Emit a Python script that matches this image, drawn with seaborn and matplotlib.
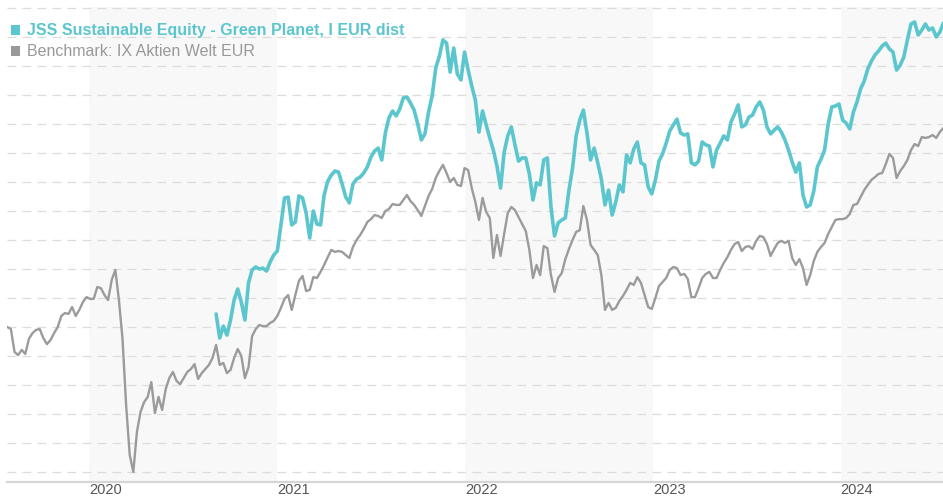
import numpy as np
import pandas as pd
import matplotlib
matplotlib.use("Agg")
import matplotlib.pyplot as plt
import matplotlib.patches as mpatches
import seaborn as sns

# weekly values (Fridays), index level
start_date = "2019-07-26"

benchmark = [
    90.0, 89.3, 81.4, 80.3, 82.1, 80.7, 85.9, 87.9, 89.0, 89.3,
    86.2, 84.1, 85.5, 87.9, 90.0, 93.8, 94.8, 94.5, 96.9, 93.8,
    95.9, 98.6, 100.3, 99.7, 99.7, 103.8, 103.4, 101.0, 99.3, 106.2,
    109.7, 99.3, 85.9, 63.1, 45.9, 40.0, 53.8, 60.7, 64.1, 65.9,
    71.0, 60.3, 65.9, 61.4, 68.6, 72.4, 74.5, 71.4, 70.3, 72.4,
    74.5, 75.5, 77.2, 72.1, 74.1, 75.5, 76.9, 79.3, 83.8, 76.9,
    77.6, 74.1, 75.2, 79.3, 82.4, 80.0, 72.4, 76.2, 86.9, 89.3,
    90.7, 90.3, 90.3, 91.4, 92.1, 93.8, 96.6, 99.7, 101.0, 95.9,
    101.0, 105.9, 107.6, 102.4, 102.8, 107.2, 106.9, 109.0, 111.4, 114.1,
    116.6, 115.9, 116.2, 115.9, 114.8, 113.8, 117.6, 120.0, 121.7, 123.8,
    126.2, 127.2, 128.6, 128.3, 127.6, 130.0, 130.7, 132.4, 132.1, 132.1,
    133.8, 135.5, 133.4, 132.1, 130.3, 128.3, 131.7, 135.2, 137.6, 141.4,
    143.8, 145.9, 143.1, 140.0, 141.4, 139.0, 138.6, 144.8, 144.1, 137.9,
    133.1, 126.9, 134.5, 129.7, 127.6, 113.8, 121.7, 114.5, 122.1, 129.3,
    131.4, 130.3, 127.9, 125.5, 123.1, 116.6, 106.9, 111.4, 107.9, 117.9,
    117.2, 107.9, 102.1, 106.9, 108.6, 113.4, 116.9, 120.0, 122.8, 123.4,
    131.7, 126.9, 118.3, 116.6, 114.8, 107.9, 95.9, 98.3, 95.9, 96.6,
    99.0, 100.7, 102.8, 105.2, 104.5, 107.2, 105.2, 101.0, 96.9, 96.2,
    100.0, 104.1, 105.5, 106.9, 109.7, 110.7, 110.3, 107.9, 108.3, 106.6,
    100.3, 100.3, 103.4, 106.9, 108.3, 109.0, 106.9, 106.9, 109.7, 112.1,
    114.1, 116.6, 118.6, 119.3, 116.2, 117.6, 117.9, 116.9, 119.7, 121.4,
    121.0, 118.6, 114.5, 116.9, 119.0, 119.7, 119.0, 119.7, 113.8, 111.4,
    113.4, 110.3, 104.5, 107.9, 112.8, 115.9, 117.6, 119.0, 122.1, 124.5,
    126.9, 127.2, 127.2, 127.6, 129.0, 132.1, 132.4, 134.8, 137.2, 139.0,
    140.7, 141.7, 142.8, 143.1, 146.2, 149.7, 148.3, 141.4, 143.8, 145.5,
    147.6, 151.0, 153.1, 152.4, 155.5, 155.2, 155.5, 156.2, 155.2, 157.2, 158.6,
]

# fund series starts 58 weeks later
fund_start_week = 58
fund = [
    94.5, 86.2,
    90.3, 87.2, 92.4, 99.3, 103.1, 98.6, 92.4, 105.2, 109.7, 110.7,
    110.0, 110.3, 109.3, 112.4, 114.8, 116.2, 125.2, 134.5, 134.8, 125.2,
    126.2, 135.2, 134.5, 129.3, 120.7, 130.0, 125.5, 125.2, 135.5, 140.3,
    142.4, 143.8, 143.4, 139.3, 134.8, 132.8, 139.3, 141.0, 141.7, 143.1,
    145.2, 148.6, 150.7, 151.7, 147.6, 156.9, 162.1, 164.5, 162.8, 165.2,
    169.0, 169.3, 167.2, 164.8, 160.0, 154.5, 156.6, 164.1, 169.7, 179.3,
    183.4, 189.0, 187.9, 177.9, 186.2, 177.2, 175.2, 184.8, 178.6, 173.1,
    168.3, 157.2, 164.5, 159.7, 155.2, 151.0, 145.5, 137.9, 150.3, 155.9,
    159.0, 152.8, 147.2, 148.3, 148.3, 142.8, 133.8, 139.7, 139.0, 147.6,
    148.3, 131.4, 121.4, 125.9, 126.9, 127.6, 137.2, 144.8, 155.9, 161.4,
    164.8, 156.9, 147.6, 151.7, 146.6, 141.0, 132.1, 137.2, 128.6, 133.1,
    139.0, 136.6, 149.3, 146.6, 151.4, 153.8, 146.6, 145.9, 138.3, 135.9,
    140.7, 147.2, 149.7, 153.4, 157.6, 159.7, 161.7, 156.9, 156.2, 156.6,
    146.6, 145.9, 147.2, 153.8, 152.8, 152.4, 145.2, 151.0, 153.4, 155.9,
    154.5, 160.7, 163.4, 166.6, 159.0, 159.7, 162.4, 163.1, 165.9, 167.6,
    164.8, 159.0, 156.6, 157.9, 159.0, 157.2, 154.5, 151.0, 146.9, 143.4,
    146.6, 135.5, 131.4, 132.1, 136.9, 145.2, 147.9, 151.0, 160.0, 165.9,
    166.2, 166.9, 161.4, 160.3, 158.3, 164.1, 167.6, 172.1, 174.8, 179.0,
    181.7, 183.8, 185.2, 186.9, 187.9, 185.9, 184.8, 178.6, 180.3, 183.1,
    189.0, 194.5, 195.2, 190.7, 192.4, 194.5, 192.4, 193.1, 190.0, 191.7, 194.8,
]

years = [2020, 2021, 2022, 2023, 2024]
shaded_years = [2020, 2022, 2024]

fund_label = "JSS Sustainable Equity - Green Planet, I EUR dist"
bench_label = "Benchmark: IX Aktien Welt EUR"

FUND_COLOR = "#5bc6cd"
BENCH_COLOR = "#9b9b9b"


def main():
    dates = pd.date_range(start_date, periods=len(benchmark), freq="7D")
    fund_full = [np.nan] * fund_start_week + fund
    df = pd.DataFrame({"date": dates, "benchmark": benchmark, "fund": fund_full})
    long = df.melt(id_vars="date", var_name="series", value_name="value").dropna()

    sns.set_style("white")
    plt.rcParams["font.family"] = ["Liberation Sans", "DejaVu Sans"]

    W, H = 943, 500
    fig = plt.figure(figsize=(W / 100, H / 100), dpi=100)
    ax = fig.add_axes([7.3 / W, 18 / H, (943.4 - 7.3) / W, 475 / H])

    for y in shaded_years:
        ax.axvspan(pd.Timestamp(f"{y}-01-01"), pd.Timestamp(f"{y + 1}-01-01"),
                   color="#f8f8f8", lw=0, zorder=0)

    sns.lineplot(data=long, x="date", y="value", hue="series", size="series",
                 palette={"benchmark": BENCH_COLOR, "fund": FUND_COLOR},
                 sizes={"benchmark": 1.7, "fund": 2.6},
                 estimator=None, legend=False, ax=ax, zorder=3)

    ax.set_xlim(dates[0], dates[-1])
    ax.set_ylim(36.55, 200.35)
    ax.set_yticks(np.arange(40, 201, 10))
    ax.yaxis.grid(True, color="#dcdcdc", linestyle=(0, (7, 5)), linewidth=0.9, zorder=1)
    ax.set_axisbelow(True)
    ax.tick_params(left=False, labelleft=False, bottom=False, length=0, pad=1)

    ax.set_xticks([pd.Timestamp(f"{y}-01-01") for y in years])
    ax.set_xticklabels([str(y) for y in years], ha="left", fontsize=10.5, color="#555555")

    ax.set_xlabel("")
    ax.set_ylabel("")
    for side in ["top", "left", "right"]:
        ax.spines[side].set_visible(False)
    ax.spines["bottom"].set_color("#d6d6d6")
    ax.spines["bottom"].set_linewidth(1.6)

    # legend drawn as text + squares at top-left
    for ypix, col, txt, weight in [(30, FUND_COLOR, fund_label, "bold"),
                                   (51, "#999999", bench_label, "normal")]:
        fig.patches.append(mpatches.Rectangle((11 / W, 1 - (ypix + 4.5) / H), 9 / W, 9 / H,
                                              transform=fig.transFigure, facecolor=col,
                                              edgecolor="none", figure=fig))
        fig.text(27 / W, 1 - ypix / H, txt, color=col, fontsize=11.5, fontweight=weight,
                 va="center", ha="left")

    fig.savefig("out.png", dpi=100)
    plt.close(fig)


if __name__ == "__main__":
    main()
